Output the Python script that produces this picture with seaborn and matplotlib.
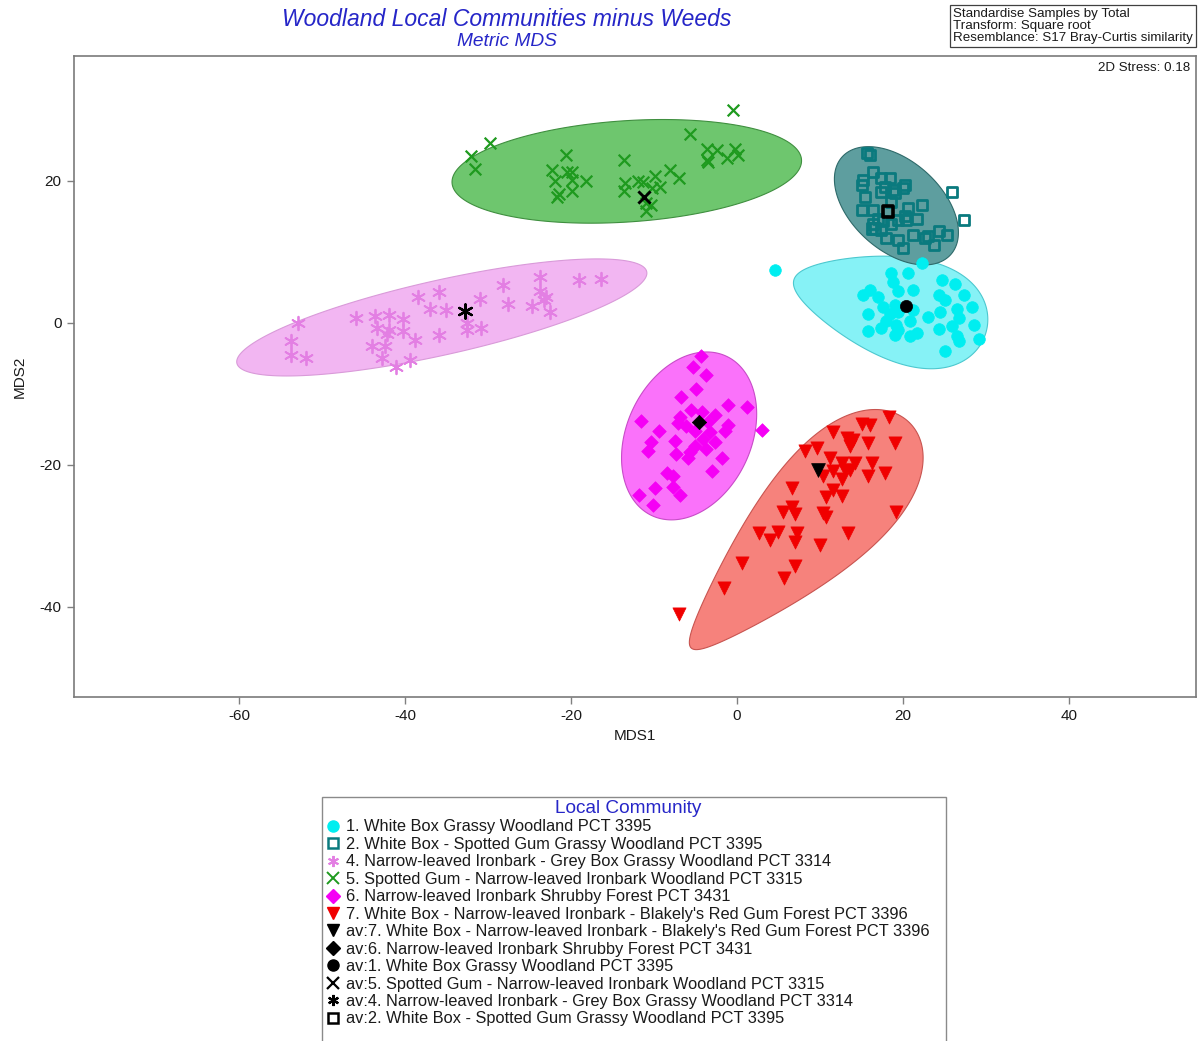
import numpy as np
import pandas as pd
import matplotlib
matplotlib.use("Agg")
import matplotlib.pyplot as plt
from matplotlib.lines import Line2D
from matplotlib.patches import Rectangle
import seaborn as sns

# ---------------------------------------------------------------------------
# Sample ordination scores (MDS1, MDS2) per local community
# ---------------------------------------------------------------------------
c1_x = [4.6, 22.3, 18.6, 20.6, 18.8, 24.7, 26.3, 15.2, 16.0, 17.0, 19.4, 21.2, 24.3, 25.1,
        27.3, 17.6, 19.0, 21.2, 23.0, 24.5, 26.5, 28.3, 15.8, 18.4, 19.4, 18.0, 20.8, 26.7,
        17.4, 19.2, 19.4, 25.9, 24.3, 28.5, 15.8, 19.0, 20.8, 21.7, 26.5, 26.7, 29.2, 25.1]
c1_y = [7.5, 8.5, 7.0, 7.0, 5.8, 6.0, 5.5, 3.9, 4.6, 3.7, 4.5, 4.7, 3.9, 3.2,
        3.9, 2.3, 2.5, 1.8, 0.9, 1.5, 1.9, 2.2, 1.3, 1.3, 1.6, 0.2, 0.3, 0.7,
        -0.7, -0.3, -1.0, -0.5, -0.9, -0.3, -1.2, -1.7, -1.8, -1.4, -1.8, -2.6, -2.2, -4.0]

c2_x = [15.6, 16.0, 16.4, 15.2, 15.0, 17.4, 18.4, 17.8, 18.8, 20.2, 20.0, 17.4, 19.0, 15.4,
        18.6, 25.9, 15.0, 16.4, 17.0, 20.6, 22.3, 20.2, 21.7, 19.4, 20.4, 16.4, 17.6, 16.6,
        17.4, 18.6, 18.0, 19.4, 20.0, 21.2, 22.7, 23.7, 24.3, 25.3, 23.0, 27.3, 16.2]
c2_y = [23.9, 23.7, 21.3, 20.1, 19.4, 20.4, 20.4, 19.2, 18.7, 19.4, 19.0, 18.5, 18.3, 17.8,
        17.1, 18.4, 15.9, 15.9, 14.7, 16.2, 16.6, 15.0, 14.7, 14.5, 14.5, 14.0, 14.3, 13.3,
        13.1, 14.0, 11.9, 11.7, 10.5, 12.4, 11.9, 11.0, 13.0, 12.4, 12.2, 14.5, 13.3]

c4_x = [-52.9, -53.7, -53.7, -52.0, -45.9, -43.6, -41.9, -40.2, -43.4, -41.9, -42.2, -40.2,
        -38.8, -44.0, -42.4, -42.8, -41.1, -39.4, -38.4, -35.9, -37.0, -35.1, -35.9, -32.5,
        -32.5, -30.9, -31.0, -28.2, -27.6, -24.7, -23.8, -23.7, -23.0, -23.3, -22.5, -19.1, -16.4]
c4_y = [0.0, -2.6, -4.5, -5.0, 0.7, 1.0, 1.1, 0.5, -0.7, -1.0, -1.5, -1.2,
        -2.4, -3.3, -3.3, -5.0, -6.2, -5.2, 3.7, 4.4, 1.9, 1.8, -1.7, 0.0,
        -1.0, -0.7, 3.3, 5.4, 2.6, 2.4, 6.4, 4.5, 3.7, 3.2, 1.6, 6.1, 6.2]

c5_x = [-0.45, -5.7, -29.8, -32.1, -31.6, -20.6, -22.3, -20.5, -19.9, -21.9, -19.9, -18.2,
        -21.5, -19.9, -21.7, -13.6, -13.5, -13.6, -11.9, -11.3, -9.9, -10.3, -9.3, -8.1,
        -7.0, -11.0, -10.4, -11.0, -3.65, -2.45, -0.24, 0.16, -1.24, -3.65, -3.46]
c5_y = [30.0, 26.6, 25.3, 23.5, 21.7, 23.6, 21.6, 21.2, 21.3, 20.0, 20.2, 20.0,
        18.2, 18.6, 17.8, 23.0, 19.7, 18.6, 20.0, 19.9, 20.7, 19.0, 19.2, 21.5,
        20.4, 16.9, 16.6, 15.8, 24.5, 24.4, 24.5, 23.7, 23.2, 23.0, 22.6]

c6_x = [-4.3, -5.3, -3.8, -4.9, -6.7, -1.1, 1.2, -5.5, -4.2, -2.7, -11.6, -6.9, -7.1, -6.1,
        -3.5, -1.1, -1.4, 3.0, -9.4, -5.1, -3.3, -7.5, -4.1, -2.7, -10.4, -10.7, -5.1, -7.3,
        -5.7, -3.7, -5.9, -1.8, -8.5, -7.7, -3.0, -9.9, -7.7, -11.8, -6.9, -10.1]
c6_y = [-4.6, -6.2, -7.3, -9.3, -10.4, -11.5, -11.9, -12.3, -12.6, -13.0, -13.8, -13.3, -14.1,
        -14.5, -14.0, -14.4, -15.2, -15.1, -15.2, -15.2, -15.3, -16.7, -16.3, -16.8, -16.8,
        -18.0, -17.4, -18.4, -18.2, -17.7, -19.1, -19.0, -21.2, -21.5, -20.9, -23.3, -23.1,
        -24.2, -24.3, -25.6]

c7_x = [18.3, 15.0, 16.0, 11.6, 13.2, 14.0, 13.6, 15.8, 19.0, 8.2, 9.6, 11.2, 12.6, 14.2,
        16.2, 11.6, 13.0, 13.6, 10.4, 15.8, 17.8, 12.6, 6.6, 11.6, 10.7, 12.6, 6.6, 5.5,
        7.0, 10.4, 10.7, 19.2, 2.7, 4.0, 4.9, 7.2, 7.0, 10.0, 13.4, 0.6, 7.0, 5.6, -1.6, -7.0]
c7_y = [-13.3, -14.2, -14.4, -15.3, -16.2, -16.5, -17.4, -16.9, -16.9, -18.1, -17.6, -19.1,
        -19.8, -19.8, -19.7, -20.9, -20.7, -20.7, -21.5, -21.5, -21.2, -22.0, -23.3, -23.5,
        -24.5, -24.4, -25.9, -26.7, -26.9, -26.8, -27.4, -26.6, -29.6, -30.6, -29.4, -29.6,
        -30.8, -31.3, -29.6, -33.8, -34.2, -36.0, -37.4, -41.0]

# Community averages (order: 1, 2, 4, 5, 6, 7)
avg_x = [20.4, 18.2, -32.8, -11.2, -4.6, 9.8]
avg_y = [2.4, 15.7, 1.7, 17.7, -14.0, -20.7]

community_labels = [
    "1. White Box Grassy Woodland PCT 3395",
    "2. White Box - Spotted Gum Grassy Woodland PCT 3395",
    "4. Narrow-leaved Ironbark - Grey Box Grassy Woodland PCT 3314",
    "5. Spotted Gum - Narrow-leaved Ironbark Woodland PCT 3315",
    "6. Narrow-leaved Ironbark Shrubby Forest PCT 3431",
    "7. White Box - Narrow-leaved Ironbark - Blakely's Red Gum Forest PCT 3396",
]
# legend order of the average entries (indices into community_labels)
average_order = [5, 4, 0, 3, 2, 1]

# Group regions: centre (data units), semi-axes (x units), screen angle, egg skew
region_cx = [18.43, 19.2, -35.58, -13.29, -5.78, 7.6]
region_cy = [2.4, 16.5, 0.77, 21.35, -15.92, -29.9]
region_a = [12.0, 8.8, 25.3, 21.1, 10.6, 18.9]
region_b = [6.1, 5.4, 4.5, 6.1, 7.5, 6.6]
region_angle = [-15, -42, 12.6, 3.8, 65, 46]
region_skew = [0.35, 0.0, 0.0, 0.0, 0.0, 0.5]

xs = [c1_x, c2_x, c4_x, c5_x, c6_x, c7_x]
ys = [c1_y, c2_y, c4_y, c5_y, c6_y, c7_y]
codes = ["1", "2", "4", "5", "6", "7"]

samples = pd.concat(
    [pd.DataFrame({"MDS1": x, "MDS2": y, "community": c}) for x, y, c in zip(xs, ys, codes)],
    ignore_index=True,
)
averages = pd.DataFrame({"MDS1": avg_x, "MDS2": avg_y, "community": codes})

# ---------------------------------------------------------------------------
# Styling
# ---------------------------------------------------------------------------
ASTERISK = (6, 2, 0)
point_colour = ["#00EEF0", "#0A7A7E", "#E37FE3", "#1E9A1E", "#F500F5", "#F00000"]
marker = ["o", "s", ASTERISK, "x", "D", "v"]
kind = ["solid", "open", "line", "line", "solid", "solid"]
size = [70, 52, 95, 70, 48, 90]
lw = [0.5, 2.0, 1.3, 1.6, 0.5, 0.5]
region_fill = ["#86F2F6", "#5E9E9F", "#F2B6F2", "#6EC66E", "#FA72FA", "#F6827C"]
region_edge = ["#4CC8CF", "#2E6A6A", "#D99AD9", "#3F8F3F", "#C84CC8", "#C85450"]
blue = "#2626C8"

sns.set_theme(style="white")
plt.rcParams["font.family"] = ["Liberation Sans", "DejaVu Sans"]
plt.rcParams["axes.unicode_minus"] = False

fig = plt.figure(figsize=(12.02, 10.41), dpi=100)
ax = fig.add_axes([74 / 1202, 1 - 697 / 1041, 1122 / 1202, 641 / 1041])
ax.set_xlim(-79.9, 55.3)
ax.set_ylim(-52.7, 37.6)

# ratio between screen size of one x unit and one y unit
p = ax.transData.transform([[0, 0], [1, 1]])
yscale = (p[1, 0] - p[0, 0]) / (p[1, 1] - p[0, 1])


def region_outline(cx, cy, a, b, angle, skew):
    t = np.linspace(0, 2 * np.pi, 400)
    u = a * np.cos(t)
    v = b * np.sin(t) * (1 + skew * np.cos(t))
    th = np.radians(angle)
    X = u * np.cos(th) - v * np.sin(th)
    Y = u * np.sin(th) + v * np.cos(th)
    return cx + X, cy + Y * yscale


for i in [2, 3, 0, 1, 4, 5]:
    ox, oy = region_outline(region_cx[i], region_cy[i], region_a[i], region_b[i],
                            region_angle[i], region_skew[i])
    ax.fill(ox, oy, facecolor=region_fill[i], edgecolor=region_edge[i], lw=0.8, zorder=1)


def point_kwargs(i, colour, s, scale=1.0):
    kw = dict(marker=marker[i], s=s, legend=False, ax=ax)
    if kind[i] == "solid":
        kw.update(color=colour, edgecolor=colour, linewidth=lw[i])
    elif kind[i] == "open":
        kw.update(facecolor="none", edgecolor=colour, color=colour, linewidth=lw[i] * scale)
    else:
        kw.update(color=colour, edgecolor=None, linewidth=lw[i] * scale)
    return kw


for i, c in enumerate(codes):
    sub = samples[samples["community"] == c]
    sns.scatterplot(data=sub, x="MDS1", y="MDS2", zorder=3,
                    **point_kwargs(i, point_colour[i], size[i]))

for i, c in enumerate(codes):
    sub = averages[averages["community"] == c]
    sns.scatterplot(data=sub, x="MDS1", y="MDS2", zorder=4,
                    **point_kwargs(i, "black", size[i] * 1.1, scale=1.3))

# axes styling
ax.set_xticks([-60, -40, -20, 0, 20, 40])
ax.set_yticks([-40, -20, 0, 20])
ax.tick_params(axis="both", direction="out", length=5, width=1, color="#808080",
               labelsize=11, labelcolor="#1a1a1a", pad=4, bottom=True, left=True)
for sp in ax.spines.values():
    sp.set_color("#7a7a7a")
    sp.set_linewidth(1.2)
ax.set_xlabel("MDS1", fontsize=11, color="#1a1a1a", labelpad=4)
ax.set_ylabel("MDS2", fontsize=11, color="#1a1a1a", labelpad=9)
ax.grid(False)

ax.text(0.9947, 0.9813, "2D Stress: 0.18", transform=ax.transAxes, ha="right",
        va="center", fontsize=9.6, color="#1a1a1a")

# titles
fig.text(507 / 1202, 1 - 19 / 1041, "Woodland Local Communities minus Weeds", ha="center",
         va="center", fontsize=16.5, style="italic", color=blue)
fig.text(507 / 1202, 1 - 41 / 1041, "Metric MDS", ha="center", va="center",
         fontsize=13.8, style="italic", color=blue)
fig.text(953 / 1202, 1 - 7.5 / 1041,
         "Standardise Samples by Total\nTransform: Square root\nResemblance: S17 Bray-Curtis similarity",
         ha="left", va="top", fontsize=9.6, linespacing=1.02, color="#1a1a1a",
         bbox=dict(boxstyle="square,pad=0.22", fc="white", ec="#404040", lw=0.9))

# legend
handles, labels = [], []
for i in range(6):
    if kind[i] == "solid":
        h = Line2D([], [], ls="none", marker=marker[i], markersize=8 if i != 4 else 7,
                   markerfacecolor=point_colour[i], markeredgecolor=point_colour[i])
    elif kind[i] == "open":
        h = Line2D([], [], ls="none", marker=marker[i], markersize=6.5,
                   markerfacecolor="none", markeredgecolor=point_colour[i], markeredgewidth=1.8)
    else:
        h = Line2D([], [], ls="none", marker=marker[i], markersize=8,
                   markeredgecolor=point_colour[i], markeredgewidth=1.4)
    handles.append(h)
    labels.append(community_labels[i])
for i in average_order:
    if kind[i] == "solid":
        h = Line2D([], [], ls="none", marker=marker[i], markersize=8 if i != 4 else 7,
                   markerfacecolor="black", markeredgecolor="black")
    elif kind[i] == "open":
        h = Line2D([], [], ls="none", marker=marker[i], markersize=6.5,
                   markerfacecolor="none", markeredgecolor="black", markeredgewidth=1.8)
    else:
        h = Line2D([], [], ls="none", marker=marker[i], markersize=8,
                   markeredgecolor="black", markeredgewidth=1.6)
    handles.append(h)
    labels.append("av:" + community_labels[i])

leg = fig.legend(handles, labels, loc="upper left",
                 bbox_to_anchor=(326.5 / 1202, 1 - 800 / 1041),
                 frameon=False, fontsize=11.8, labelspacing=0.15, handlelength=0.78,
                 handletextpad=0.38, borderpad=0.0, borderaxespad=0.0,
                 title="Local Community", title_fontsize=13.7)
leg.get_title().set_color(blue)
for t in leg.get_texts():
    t.set_color("#1a1a1a")

fig.add_artist(Rectangle((322 / 1202, 1 - 1045 / 1041), 624 / 1202, 248 / 1041,
                         transform=fig.transFigure, fill=False, ec="#8a8a8a", lw=1.0))

fig.savefig("out.png", dpi=100, facecolor="white")
